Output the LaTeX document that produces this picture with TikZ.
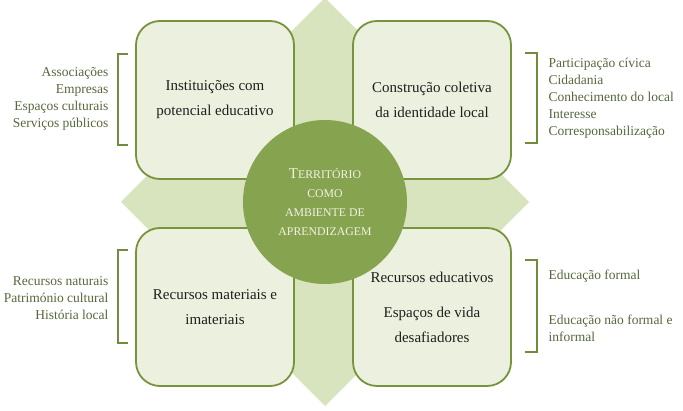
\documentclass[tikz,border=0pt]{standalone}
\usepackage{fontspec}
\setmainfont{Liberation Serif}
\usetikzlibrary{positioning}
\definecolor{boxfl}{HTML}{EBF1DE}
\definecolor{boxln}{HTML}{77933C}
\definecolor{diafl}{HTML}{D7E4BD}
\definecolor{hubfl}{HTML}{86A350}
\definecolor{hubtx}{HTML}{F2F2E2}
\definecolor{brkln}{HTML}{6F8D3C}
\definecolor{sidetx}{HTML}{56673C}
\tikzset{
  bx/.style={rectangle,rounded corners=24pt,draw=boxln,fill=boxfl,line width=1.8pt,
    minimum size=158pt,inner sep=0pt,align=center,text=black!88,
    font=\fontsize{15}{25}\selectfont},
  hub/.style={circle,fill=hubfl,minimum size=164pt,inner sep=0pt,align=center,
    text=hubtx,font=\fontsize{11.8}{19}\selectfont},
  dia/.style={fill=diafl},
  brk/.style={draw=brkln,line width=1.4pt},
  sd/.style={font=\fontsize{13.5}{17}\selectfont,text=sidetx},
}
\newcommand{\bigT}[1]{{\fontsize{15}{19}\selectfont #1}}

\begin{document}
\begin{tikzpicture}[x=1pt,y=-1pt]
\useasboundingbox (0,0) rectangle (683,411);
% ---- diamond behind the grid
\fill[dia] (325,-2) -- (529,202) -- (325,406) -- (121,202) -- cycle;
% ---- the four boxes
\node[bx] (tl) at (215,100) {Instituições com\\potencial educativo};
\node[bx] (tr) at (432,100) {Construção coletiva\\da identidade local};
\node[bx] (bl) at (215,307) {Recursos materiais e\\imateriais};
\node[bx] (br) at (432,307) {Recursos educativos\\[10pt]Espaços de vida\\desafiadores};
\node[hub] (hb) at (325,202) {\bigT{T}ERRITÓRIO\\COMO\\AMBIENTE DE\\APRENDIZAGEM};
% ---- brackets and side lists
\draw[brk] (128,54) -- (118,54) -- (118,145) -- (128,145);
\draw[brk] (128,250) -- (118,250) -- (118,343) -- (128,343);
\draw[brk] (525,53) -- (537,53) -- (537,143) -- (525,143);
\draw[brk] (525,260) -- (537,260) -- (537,352) -- (525,352);
\node[sd,anchor=east,align=right] (ltl) at (112,99)
  {Associações\\Empresas\\Espaços culturais\\Serviços públicos};
\node[sd,anchor=east,align=right] (lbl) at (112,298)
  {Recursos naturais\\Património cultural\\História local};
\node[sd,anchor=west,align=left] (ltr) at (545,98)
  {Participação cívica\\Cidadania\\Conhecimento do local\\Interesse\\Corresponsabilização};
\node[sd,anchor=west,align=left] (lbr1) at (545,276) {Educação formal};
\node[sd,anchor=west,align=left] (lbr2) at (545,328) {Educação não formal e\\informal};
\end{tikzpicture}
\end{document}
